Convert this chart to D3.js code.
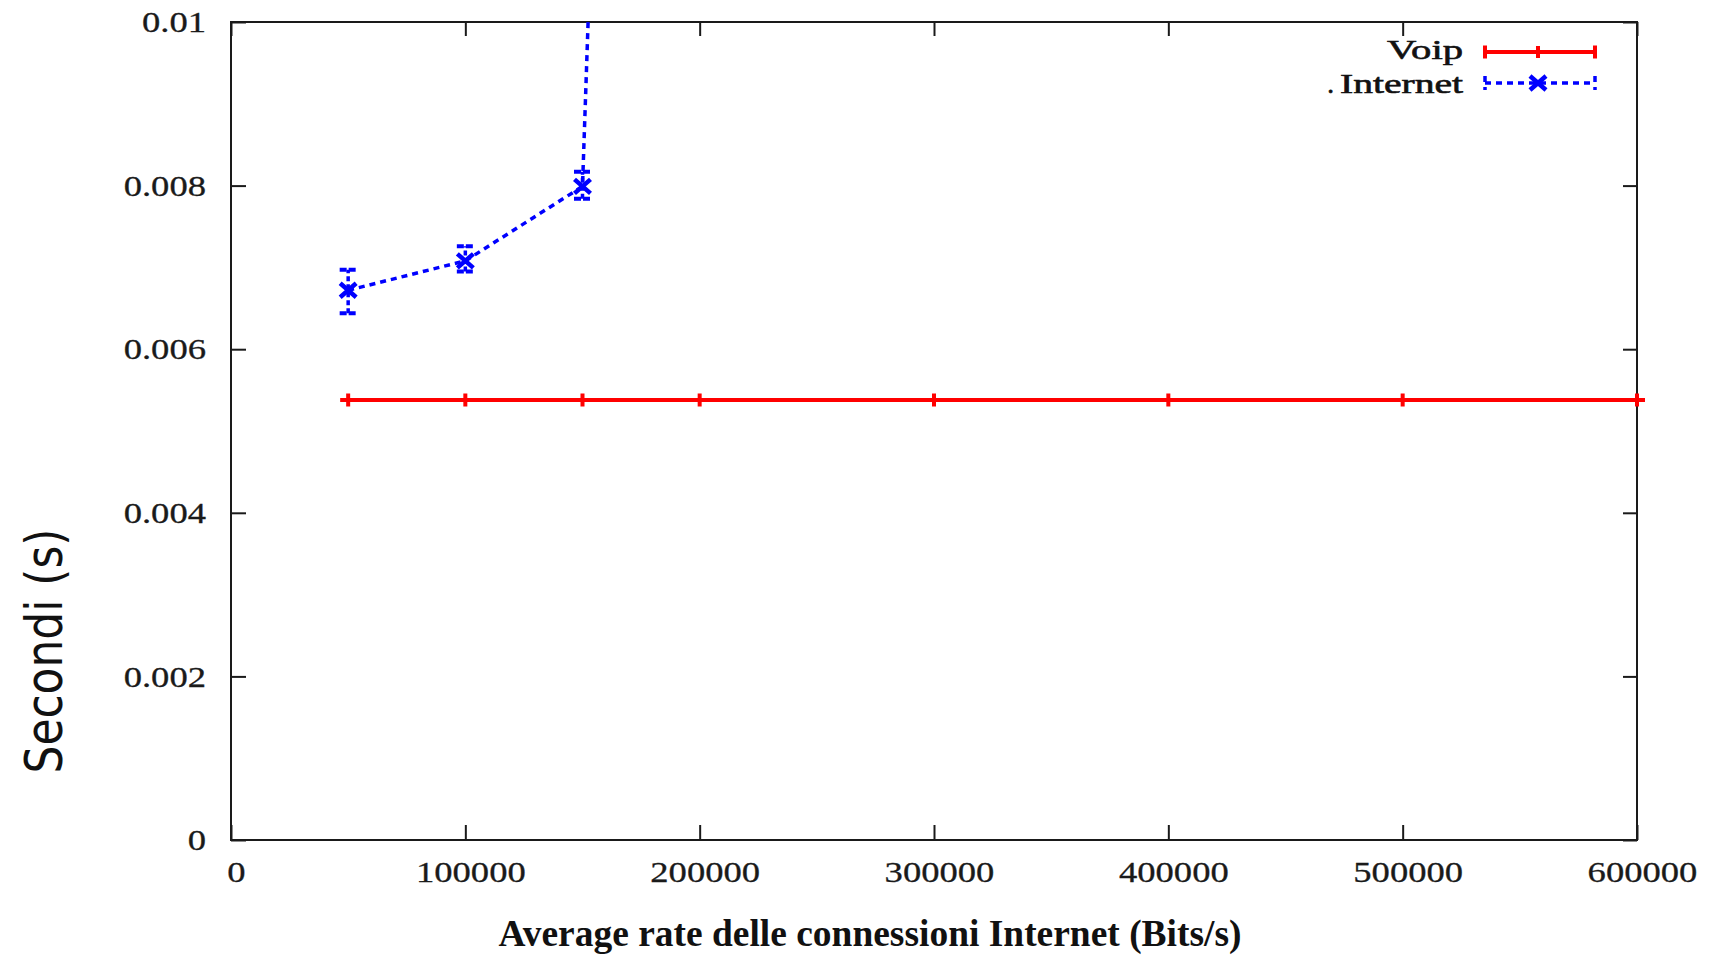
<!DOCTYPE html>
<html>
<head>
<meta charset="utf-8">
<script src="https://cdn.jsdelivr.net/npm/d3@7"></script>
<style>
  body { margin: 0; background: #ffffff; }
  svg { display: block; }
</style>
</head>
<body>
<svg id="chart" width="1713" height="955"></svg>
<script>
// Offered Internet load (bit/s) and measured delay (s)
const rates = [50000, 100000, 150000, 200000, 300000, 400000, 500000, 600000];
const voipDelay = [0.00538, 0.00538, 0.00538, 0.00538, 0.00538, 0.00538, 0.00538, 0.00538];

const internetRates = [50000, 100000, 150000, 200000];
const internetDelay = [0.00672, 0.00708, 0.00799, 0.05];
const internetLow   = [0.00644, 0.00695, 0.00784, 0.0488];
const internetHigh  = [0.00697, 0.00726, 0.00817, 0.0512];

const xTickValues = [0, 100000, 200000, 300000, 400000, 500000, 600000];
const yTickValues = [0, 0.002, 0.004, 0.006, 0.008, 0.01];
const yTickLabels = ["0", "0.002", "0.004", "0.006", "0.008", "0.01"];

const seriesNames = ["Voip", "Internet"];
const xTitle = "Average rate delle connessioni Internet (Bits/s)";
const yTitle = "Secondi (s)";

const svg = d3.select("#chart");
const frame = { left: 231, right: 1637, top: 22, bottom: 840 };
const axisColor = "#1a1a1a";
const red = "#ff0000";
const blue = "#0000ff";
const serif = "'Liberation Serif', 'Times New Roman', serif";

const x = d3.scaleLinear().domain([0, 600000]).range([frame.left, frame.right]);
const y = d3.scaleLinear().domain([0, 0.01]).range([frame.bottom, frame.top]);

// widen glyphs horizontally by factor k
function stretch(sel, k) {
  sel.each(function () {
    const w = this.getComputedTextLength();
    this.setAttribute("textLength", w * k);
    this.setAttribute("lengthAdjust", "spacingAndGlyphs");
  });
}

function styleAxis(g) {
  g.select(".domain").remove();
  g.selectAll(".tick line").attr("stroke", axisColor).attr("stroke-width", 2);
  g.selectAll(".tick text")
    .attr("fill", "#1a1a1a")
    .attr("stroke", "#1a1a1a").attr("stroke-width", 0.3)
    .style("font-family", serif)
    .style("font-size", "30px");
}

// bottom axis with labels
const gx = svg.append("g")
  .attr("transform", `translate(0,${frame.bottom})`)
  .call(d3.axisBottom(x).tickValues(xTickValues).tickFormat(d3.format("d"))
    .tickSizeInner(-15).tickSizeOuter(0).tickPadding(21));
styleAxis(gx);
gx.selectAll(".tick text").attr("x", 5);
stretch(gx.selectAll(".tick text"), 1.22);

// left axis with labels
const gy = svg.append("g")
  .attr("transform", `translate(${frame.left},0)`)
  .call(d3.axisLeft(y).tickValues(yTickValues).tickFormat((d, i) => yTickLabels[i])
    .tickSizeInner(-15).tickSizeOuter(0).tickPadding(25));
styleAxis(gy);
stretch(gy.selectAll(".tick text"), 1.22);

// mirrored ticks on top and right
const gxTop = svg.append("g")
  .attr("transform", `translate(0,${frame.top})`)
  .call(d3.axisTop(x).tickValues(xTickValues).tickFormat("").tickSizeInner(-14).tickSizeOuter(0));
styleAxis(gxTop);
const gyRight = svg.append("g")
  .attr("transform", `translate(${frame.right},0)`)
  .call(d3.axisRight(y).tickValues(yTickValues).tickFormat("").tickSizeInner(-14).tickSizeOuter(0));
styleAxis(gyRight);

// plot border
svg.append("rect")
  .attr("x", frame.left).attr("y", frame.top)
  .attr("width", frame.right - frame.left).attr("height", frame.bottom - frame.top)
  .attr("fill", "none").attr("stroke", axisColor).attr("stroke-width", 2);

svg.append("clipPath").attr("id", "plotClip")
  .append("rect")
  .attr("x", frame.left).attr("y", frame.top)
  .attr("width", frame.right - frame.left).attr("height", frame.bottom - frame.top);

// Voip series: solid red with "+" markers
const voipPts = rates.map((r, i) => [x(r), y(voipDelay[i])]);
svg.append("path")
  .attr("d", d3.line()(voipPts))
  .attr("fill", "none").attr("stroke", red).attr("stroke-width", 4);
svg.append("g").selectAll("path").data(voipPts).join("path")
  .attr("transform", d => `translate(${d[0]},${d[1]})`)
  .attr("d", "M-8,0H8M0,-6.5V6.5")
  .attr("fill", "none").attr("stroke", red).attr("stroke-width", 4);

// Internet series: dashed blue with error bars and "x" markers
const gi = svg.append("g").attr("clip-path", "url(#plotClip)");
const internetPts = internetRates.map((r, i) => [x(r), y(internetDelay[i])]);
gi.append("path")
  .attr("d", d3.line()(internetPts))
  .attr("fill", "none").attr("stroke", blue).attr("stroke-width", 3.5)
  .attr("stroke-dasharray", "6,5");

const capHalf = 8.5;
internetRates.forEach((r, i) => {
  const cx = x(r), lo = y(internetLow[i]), hi = y(internetHigh[i]);
  gi.append("path")
    .attr("d", `M${cx},${lo}V${hi}`)
    .attr("fill", "none").attr("stroke", blue).attr("stroke-width", 3.5)
    .attr("stroke-dasharray", "5,3");
  gi.append("path")
    .attr("d", `M${cx - capHalf},${lo}H${cx + capHalf}M${cx - capHalf},${hi}H${cx + capHalf}`)
    .attr("fill", "none").attr("stroke", blue).attr("stroke-width", 4)
    .attr("stroke-dasharray", "7,2");
});
gi.append("g").selectAll("path").data(internetPts).join("path")
  .attr("transform", d => `translate(${d[0]},${d[1]})`)
  .attr("d", "M-8,-7L8,7M-8,7L8,-7")
  .attr("fill", "none").attr("stroke", blue).attr("stroke-width", 4.5);

// legend
const legX0 = 1485, legX1 = 1595, legXm = 1538;
const legend = svg.append("g");
const rowY = [52, 83];

legend.append("path")
  .attr("d", `M${legX0},${rowY[0]}H${legX1}M${legX0},${rowY[0] - 6.5}V${rowY[0] + 6.5}M${legX1},${rowY[0] - 6.5}V${rowY[0] + 6.5}M${legXm},${rowY[0] - 6}V${rowY[0] + 6}`)
  .attr("fill", "none").attr("stroke", red).attr("stroke-width", 4);

legend.append("path")
  .attr("d", `M${legX0},${rowY[1]}H${legX1}M${legX0},${rowY[1] - 7}V${rowY[1] + 7}M${legX1},${rowY[1] - 7}V${rowY[1] + 7}`)
  .attr("fill", "none").attr("stroke", blue).attr("stroke-width", 3.5)
  .attr("stroke-dasharray", "6,5");
legend.append("path")
  .attr("transform", `translate(${legXm},${rowY[1]})`)
  .attr("d", "M-8,-7L8,7M-8,7L8,-7")
  .attr("fill", "none").attr("stroke", blue).attr("stroke-width", 4.5);

const legendText = (xPos, yPos, len, str) => {
  const t = legend.append("text")
    .attr("x", xPos).attr("y", yPos)
    .attr("text-anchor", "end")
    .attr("fill", "#111").attr("stroke", "#111").attr("stroke-width", 0.6)
    .style("font-family", serif).style("font-size", "27px")
    .text(str);
  if (len) t.attr("textLength", len).attr("lengthAdjust", "spacingAndGlyphs");
  return t;
};
legendText(1463, 59, 76, seriesNames[0]);
legendText(1463, 92.5, 123, seriesNames[1]);
legendText(1334, 92.5, null, ".");

// axis titles
svg.append("text")
  .attr("x", 870).attr("y", 946)
  .attr("text-anchor", "middle")
  .attr("fill", "#111")
  .style("font-family", serif).style("font-size", "37px").style("font-weight", "bold")
  .attr("textLength", 743).attr("lengthAdjust", "spacingAndGlyphs")
  .text(xTitle);

svg.append("text")
  .attr("transform", "translate(62,651) rotate(-90)")
  .attr("text-anchor", "middle")
  .attr("fill", "#111")
  .style("font-family", "'DejaVu Sans', sans-serif").style("font-size", "51px")
  .attr("textLength", 245).attr("lengthAdjust", "spacingAndGlyphs")
  .text(yTitle);
</script>
</body>
</html>
